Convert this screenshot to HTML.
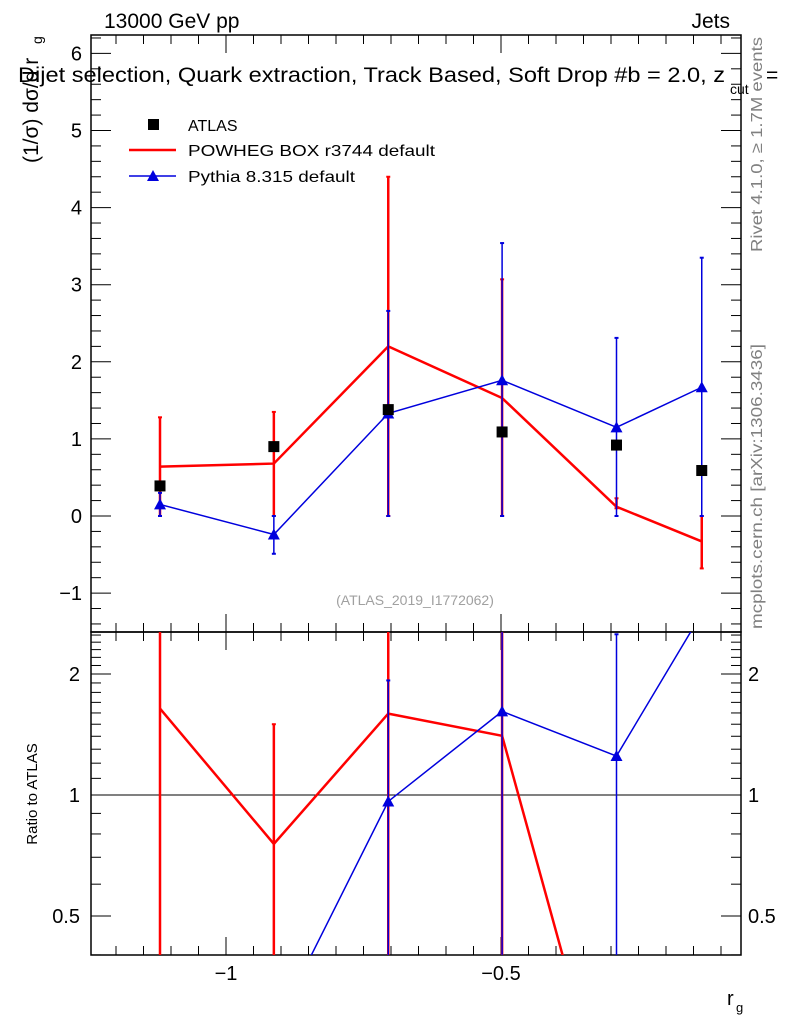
<!DOCTYPE html>
<html><head><meta charset="utf-8"><style>
html,body{margin:0;padding:0;background:#fff;overflow:hidden;width:786px;height:1024px;}
svg{display:block;font-family:"Liberation Sans",sans-serif;}
</style></head><body>
<svg id="chart" width="786" height="1024" xmlns="http://www.w3.org/2000/svg"></svg>
<script>
const xVals = [-1.12, -0.913, -0.705, -0.498, -0.29, -0.135];
const atlas = [0.39, 0.90, 1.38, 1.09, 0.92, 0.59];
const powheg = [0.64, 0.68, 2.20, 1.53, 0.12, -0.33];
const powhegUp = [1.28, 1.35, 4.40, 3.07, 0.23, 0.0];
const powhegDn = [0.0, 0.0, 0.0, 0.0, 0.1, -0.68];
const pythia = [0.15, -0.24, 1.33, 1.76, 1.15, 1.67];
const pythiaUp = [0.30, 0.0, 2.66, 3.54, 2.31, 3.35];
const pythiaDn = [0.0, -0.49, 0.0, 0.0, 0.0, 0.0];
const yTicks = [-1, 0, 1, 2, 3, 4, 5, 6];
const xTicks = [-1, -0.5];
const xTickLabels = ["\u22121", "\u22120.5"];
const rTicks = [0.5, 1, 2];
const rTickLabels = ["0.5", "1", "2"];

const NS = "http://www.w3.org/2000/svg";
const svg = document.getElementById("chart");
const L = 91, R = 741, T = 35, MB = 632, RB = 955;
const RMIN = 0.40, RMAX = 2.54;
const X = v => 226 + (v + 1) * 550;
const Y = v => 516 - v * 77.1;
const RY = v => 795 - Math.log2(v) * 121;
function el(tag, attrs, parent) {
  const e = document.createElementNS(NS, tag);
  for (const k in attrs) e.setAttribute(k, attrs[k]);
  (parent || svg).appendChild(e);
  return e;
}
function txt(s, attrs, parent) { const t = el("text", attrs, parent); t.textContent = s; return t; }

const defs = el("defs", {});
const c1 = el("clipPath", {id: "cm"}, defs); el("rect", {x: L, y: T, width: R - L, height: MB - T}, c1);
const c2 = el("clipPath", {id: "cr"}, defs); el("rect", {x: L, y: MB, width: R - L, height: RB - MB}, c2);

let f = el("rect", {x: L, y: T, width: R - L, height: MB - T, fill: "none", stroke: "#000", "stroke-width": 1.5});


f = el("rect", {x: L, y: MB, width: R - L, height: RB - MB, fill: "none", stroke: "#000", "stroke-width": 1.5});



const xt = el("g", {stroke: "#000", "stroke-width": 1});


for (let v = -1.2; v <= -0.06; v += 0.05) {
  const x = X(v); if (x < L || x > R) continue;
  const major = Math.abs(v - Math.round(v * 2) / 2) < 1e-6;
  const len = major ? 18 : 9;
  el("line", {x1: x, x2: x, y1: T, y2: T + len}, xt);
  el("line", {x1: x, x2: x, y1: MB, y2: MB - len}, xt);
  el("line", {x1: x, x2: x, y1: MB, y2: MB + len}, xt);
  el("line", {x1: x, x2: x, y1: RB, y2: RB - len}, xt);
}
xTicks.forEach((v, i) => {
  const t = txt(xTickLabels[i], {x: X(v), y: 980, "font-size": 20, "text-anchor": "middle"});
  
  
});
let t = txt("r", {x: 727, y: 1005, "font-size": 20});


txt("g", {x: 736, y: 1012, "font-size": 13});

const yt = el("g", {stroke: "#000", "stroke-width": 1});


for (let v = -1.4; v <= 6.3; v += 0.2) {
  const y = Y(v); if (y < T || y > MB) continue;
  const major = Math.abs(v - Math.round(v)) < 1e-6;
  const len = major ? 20 : 10;
  el("line", {x1: L, x2: L + len, y1: y, y2: y}, yt);
  el("line", {x1: R, x2: R - len, y1: y, y2: y}, yt);
}
yTicks.forEach(v => {
  const t = txt(v < 0 ? "\u2212" + Math.abs(v) : String(v), {x: 82, y: Y(v) + 7, "font-size": 20, "text-anchor": "end"});
  
  
});

const rt = el("g", {stroke: "#000", "stroke-width": 1});


const minorR = [0.4, 0.5, 0.6, 0.7, 0.8, 0.9, 1, 1.1, 1.2, 1.3, 1.4, 1.5, 1.6, 1.7, 1.8, 1.9, 2, 2.1, 2.2, 2.3, 2.4, 2.5];
minorR.forEach(v => {
  const y = RY(v); if (y < MB || y > RB) return;
  const major = rTicks.includes(v);
  const len = major ? 20 : 10;
  el("line", {x1: L, x2: L + len, y1: y, y2: y}, rt);
  el("line", {x1: R, x2: R - len, y1: y, y2: y}, rt);
});
rTicks.forEach((v, i) => {
  let t = txt(rTickLabels[i], {x: 80, y: RY(v) + 7, "font-size": 20, "text-anchor": "end"});
  
  
  t = txt(rTickLabels[i], {x: 748, y: RY(v) + 7, "font-size": 20});
  
  
});
let ln = el("line", {x1: L, x2: R, y1: RY(1), y2: RY(1), stroke: "#000", "stroke-width": 1});



const gm = el("g", {"clip-path": "url(#cm)"});
function series(vals, up, dn, color, width, name, marker) {
  const g = el("g", {}, gm);
  
  
  el("polyline", {points: vals.map((v, i) => X(xVals[i]) + "," + Y(v)).join(" "), fill: "none", stroke: color, "stroke-width": width}, g);
  vals.forEach((v, i) => {
    const x = X(xVals[i]);
    const e = el("line", {x1: x, x2: x, y1: Y(up[i]), y2: Y(dn[i]), stroke: color, "stroke-width": width}, g);
    
    
    el("line", {x1: x - 2, x2: x + 2, y1: Y(up[i]), y2: Y(up[i]), stroke: color, "stroke-width": 2}, g);
    el("line", {x1: x - 2, x2: x + 2, y1: Y(dn[i]), y2: Y(dn[i]), stroke: color, "stroke-width": 2}, g);
    if (marker) {
      const y = Y(v);
      const m = el("polygon", {points: `${x},${y - 6} ${x - 6},${y + 5} ${x + 6},${y + 5}`, fill: color}, g);
      
      
    }
  });
}
series(powheg, powhegUp, powhegDn, "#ff0000", 2.5, "powheg-series", false);
series(pythia, pythiaUp, pythiaDn, "#0000dd", 1.5, "pythia-series", true);
atlas.forEach((v, i) => {
  const r = el("rect", {x: X(xVals[i]) - 5.5, y: Y(v) - 5.5, width: 11, height: 11, fill: "#000"}, gm);
  
  
});

const gr = el("g", {"clip-path": "url(#cr)"});
function rv(v, i) { const r = v / atlas[i]; return r > 0 ? RY(r) : 1030; }
function rseries(vals, up, dn, color, width, name, marker) {
  const g = el("g", {}, gr);
  
  
  el("polyline", {points: vals.map((v, i) => X(xVals[i]) + "," + rv(v, i)).join(" "), fill: "none", stroke: color, "stroke-width": width}, g);
  vals.forEach((v, i) => {
    const r = v / atlas[i];
    if (!(r >= RMIN && r <= RMAX)) return;
    const x = X(xVals[i]);
    el("line", {x1: x, x2: x, y1: rv(up[i], i), y2: rv(dn[i], i), stroke: color, "stroke-width": width}, g);
    el("line", {x1: x - 2, x2: x + 2, y1: rv(up[i], i), y2: rv(up[i], i), stroke: color, "stroke-width": 2}, g);
    if (marker) {
      const y = rv(v, i);
      el("polygon", {points: `${x},${y - 6} ${x - 6},${y + 5} ${x + 6},${y + 5}`, fill: color}, g);
    }
  });
}
rseries(powheg, powhegUp, powhegDn, "#ff0000", 2.5, "powheg-ratio", false);
rseries(pythia, pythiaUp, pythiaDn, "#0000dd", 1.5, "pythia-ratio", true);

t = txt("13000 GeV pp", {x: 104, y: 28, "font-size": 21});
 
t = txt("Jets", {x: 730, y: 28, "font-size": 21, "text-anchor": "end"});
 
t = txt("Dijet selection, Quark extraction, Track Based, Soft Drop #b = 2.0, z", {x: 18, y: 82, "font-size": 21, textLength: 707, lengthAdjust: "spacingAndGlyphs"});
 
txt("cut", {x: 730, y: 94, "font-size": 14});
txt("=", {x: 766, y: 82, "font-size": 21});
t = txt("(1/\u03c3) d\u03c3/d r", {x: 0, y: 0, "font-size": 21, transform: "translate(38,163) rotate(-90)"});
 
txt("g", {x: 0, y: 0, "font-size": 14, transform: "translate(42,44) rotate(-90)"});
t = txt("Ratio to ATLAS", {x: 0, y: 0, "font-size": 15, "text-anchor": "middle", transform: "translate(37,794) rotate(-90)"});
 
t = txt("Rivet 4.1.0, \u2265 1.7M events", {x: 0, y: 0, "font-size": 16, fill: "#808080", "text-anchor": "end", textLength: 215, lengthAdjust: "spacingAndGlyphs", transform: "translate(762,37) rotate(-90)"});
 
t = txt("mcplots.cern.ch [arXiv:1306.3436]", {x: 0, y: 0, "font-size": 16, fill: "#808080", "text-anchor": "end", textLength: 285, lengthAdjust: "spacingAndGlyphs", transform: "translate(762,344) rotate(-90)"});
 
t = txt("(ATLAS_2019_I1772062)", {x: 415, y: 605, "font-size": 14, fill: "#a0a0a0", "text-anchor": "middle"});
 

const lg = el("g", {});


el("rect", {x: 148, y: 119, width: 11, height: 11, fill: "#000"}, lg);
t = txt("ATLAS", {x: 188, y: 131, "font-size": 16}, lg);
 
el("line", {x1: 129, x2: 176, y1: 150, y2: 150, stroke: "#ff0000", "stroke-width": 2.5}, lg);
t = txt("POWHEG BOX r3744 default", {x: 188, y: 156, "font-size": 16, textLength: 247, lengthAdjust: "spacingAndGlyphs"}, lg);
 
el("line", {x1: 129, x2: 176, y1: 176, y2: 176, stroke: "#0000dd", "stroke-width": 1.5}, lg);
el("polygon", {points: "153,170 147,181 159,181", fill: "#0000dd"}, lg);
t = txt("Pythia 8.315 default", {x: 188, y: 182, "font-size": 16, textLength: 167, lengthAdjust: "spacingAndGlyphs"}, lg);
 
</script>
</body></html>
